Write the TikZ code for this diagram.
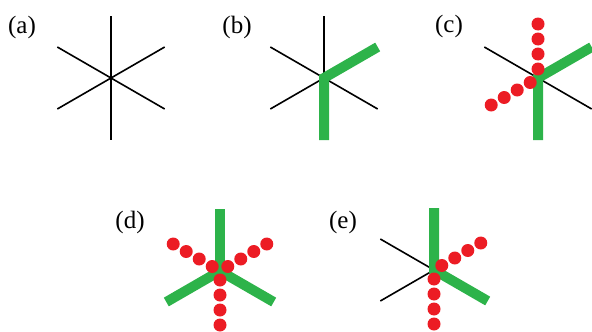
\documentclass[tikz,border=0pt]{standalone}
\usepackage{fontspec}
\setmainfont{Liberation Serif}
\usetikzlibrary{calc}
\definecolor{armgreen}{HTML}{2DB34A}
\definecolor{dotred}{HTML}{EC1C24}
\begin{document}
\begin{tikzpicture}[x=1pt,y=-1pt,
  blackarm/.style={draw=black,line width=1.6pt},
  greenarm/.style={draw=armgreen,line width=10pt,line cap=butt,line join=miter},
  reddot/.style={fill=dotred},
  lab/.style={inner sep=0pt,font=\fontsize{25}{28}\selectfont}]
\useasboundingbox (0,0) rectangle (592,332);
\def\L{62}
% centres
\coordinate (a) at (111,78);
\coordinate (b) at (324,78);
\coordinate (c) at (538,78);
\coordinate (d) at (220,271);
\coordinate (e) at (434,270);
% labels
\node[lab] (la) at (22,27) {(a)};
\node[lab] (lb) at (237,27) {(b)};
\node[lab] (lc) at (449,26) {(c)};
\node[lab] (ld) at (130,222) {(d)};
\node[lab] (le) at (343,222) {(e)};
% (a)
\foreach \ang in {-90,-30,30,90,150,210}
  \draw[blackarm] (a) -- ++(\ang:\L);
% (b)
\foreach \ang in {-90,30,150,210}
  \draw[blackarm] (b) -- ++(\ang:\L);
\draw[greenarm] ($(b)+(-30:\L)$) -- (b) -- ++(90:\L);
% (c)
\draw[blackarm] ($(c)+(210:\L)$) -- (c) -- ++(30:\L);
\draw[greenarm] ($(c)+(-30:\L)$) -- (c) -- ++(90:\L);
\foreach \k in {0,...,3} {
  \fill[reddot] ($(c)+(-90:9+15*\k)$) circle (6.5);
  \fill[reddot] ($(c)+(150:9+15*\k)$) circle (6.5);
}
% (d)
\draw[greenarm] ($(d)+(150:\L)$) -- (d) -- ++(30:\L);
\draw[greenarm] (d) -- ++(-90:\L);
\foreach \k in {0,...,3} {
  \fill[reddot] ($(d)+(210:9+15*\k)$) circle (6.5);
  \fill[reddot] ($(d)+(-30:9+15*\k)$) circle (6.5);
  \fill[reddot] ($(d)+(90:9+15*\k)$) circle (6.5);
}
% (e)
\draw[blackarm] ($(e)+(210:\L)$) -- (e) -- ++(150:\L);
\draw[greenarm] ($(e)+(-90:\L)$) -- (e) -- ++(30:\L);
\foreach \k in {0,...,3} {
  \fill[reddot] ($(e)+(-30:9+15*\k)$) circle (6.5);
  \fill[reddot] ($(e)+(90:9+15*\k)$) circle (6.5);
}
\end{tikzpicture}
\end{document}
